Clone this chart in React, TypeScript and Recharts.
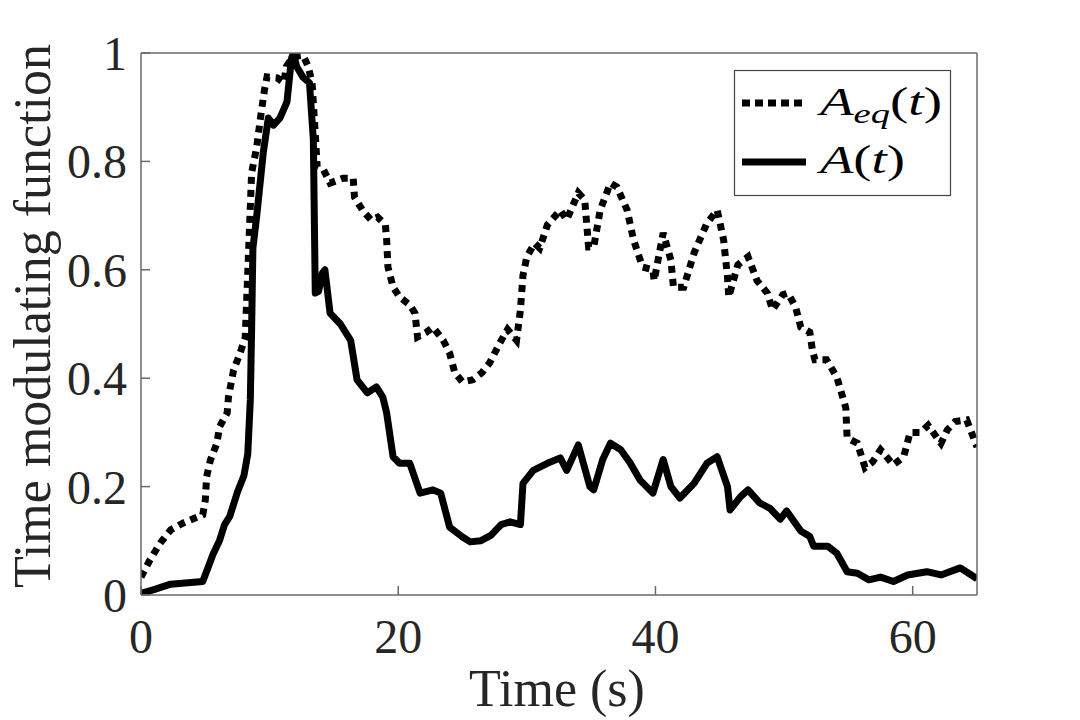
import React from 'react';
import { LineChart, Line, XAxis, YAxis } from 'recharts';

// A(t) — solid
const aTime = [0, 1, 2.3, 4.8, 5.2, 5.6, 6.1, 6.5, 6.9, 7.5, 8.0, 8.3, 8.5, 8.6, 8.7, 9.0, 9.5, 9.9, 10.3, 10.8, 11.35, 11.7, 11.85, 12.1, 12.6, 13.1, 13.4, 13.55, 13.8, 14.1, 14.3, 14.7, 15.5, 16.3, 16.8, 17.6, 18.3, 18.8, 19.1, 19.6, 20.1, 20.9, 21.7, 22.7, 23.3, 24.0, 25.0, 25.6, 26.4, 27.2, 28.0, 28.7, 29.5, 29.7, 30.5, 31.6, 32.6, 33.1, 34.0, 34.9, 35.2, 35.9, 36.5, 37.3, 38.0, 38.8, 39.8, 40.6, 41.2, 41.9, 43.0, 44.0, 44.8, 45.6, 45.8, 46.6, 47.2, 48.1, 48.9, 49.7, 50.2, 51.3, 52.0, 52.3, 53.4, 54.1, 54.9, 55.7, 56.6, 57.5, 58.5, 59.6, 61.1, 62.2, 63.7, 65];
const aValue = [0.003, 0.01, 0.02, 0.025, 0.05, 0.075, 0.10, 0.13, 0.145, 0.19, 0.22, 0.26, 0.36, 0.49, 0.64, 0.70, 0.815, 0.88, 0.867, 0.88, 0.91, 0.99, 1.0, 0.975, 0.955, 0.945, 0.84, 0.557, 0.56, 0.594, 0.6, 0.52, 0.50, 0.47, 0.397, 0.373, 0.384, 0.365, 0.336, 0.255, 0.243, 0.243, 0.188, 0.194, 0.188, 0.125, 0.107, 0.098, 0.10, 0.11, 0.13, 0.135, 0.13, 0.206, 0.23, 0.243, 0.253, 0.23, 0.277, 0.2, 0.194, 0.25, 0.28, 0.268, 0.245, 0.212, 0.188, 0.25, 0.2, 0.179, 0.206, 0.243, 0.255, 0.2, 0.157, 0.181, 0.194, 0.17, 0.16, 0.14, 0.155, 0.118, 0.108, 0.09, 0.09, 0.077, 0.043, 0.04, 0.028, 0.033, 0.025, 0.037, 0.043, 0.037, 0.05, 0.03];

// A_eq(t) — dotted
const eqTime = [0, 0.7, 1.5, 2.3, 3.3, 4.8, 5.0, 5.1, 5.4, 5.9, 6.1, 6.7, 6.8, 7.2, 7.7, 8.1, 8.3, 8.5, 8.6, 9.0, 9.3, 9.6, 9.8, 10.6, 11.1, 11.3, 11.8, 12.6, 13.0, 13.3, 13.5, 13.7, 14.2, 14.7, 15.7, 16.5, 16.6, 17.3, 17.9, 18.4, 19.0, 19.1, 19.2, 19.6, 20.1, 20.9, 21.3, 21.5, 22.2, 22.7, 23.5, 24.0, 24.4, 25.0, 25.8, 26.5, 27.1, 27.9, 28.5, 29.2, 29.5, 29.7, 30.0, 30.6, 31.0, 31.6, 32.6, 33.1, 34.0, 34.5, 34.8, 35.2, 35.7, 36.5, 37.0, 37.8, 38.3, 39.0, 39.8, 39.9, 40.6, 41.2, 41.4, 42.2, 43.0, 44.0, 44.8, 45.3, 45.6, 45.7, 46.4, 47.2, 47.9, 48.7, 49.1, 49.9, 50.3, 50.9, 51.3, 52.0, 52.2, 52.4, 53.3, 54.1, 54.4, 54.8, 54.9, 55.7, 56.3, 56.9, 57.5, 58.5, 59.3, 59.8, 60.6, 61.2, 62.2, 62.7, 63.3, 64.2, 65];
const eqValue = [0.033, 0.065, 0.096, 0.12, 0.133, 0.148, 0.175, 0.218, 0.249, 0.28, 0.31, 0.336, 0.365, 0.415, 0.446, 0.475, 0.594, 0.716, 0.779, 0.827, 0.882, 0.932, 0.956, 0.954, 0.945, 0.975, 0.993, 0.996, 0.975, 0.945, 0.871, 0.79, 0.784, 0.76, 0.769, 0.769, 0.734, 0.707, 0.692, 0.697, 0.683, 0.655, 0.605, 0.568, 0.55, 0.535, 0.52, 0.476, 0.485, 0.494, 0.47, 0.446, 0.41, 0.393, 0.397, 0.41, 0.428, 0.465, 0.49, 0.47, 0.526, 0.59, 0.624, 0.649, 0.64, 0.683, 0.71, 0.692, 0.742, 0.729, 0.642, 0.642, 0.71, 0.76, 0.753, 0.71, 0.655, 0.605, 0.6, 0.58, 0.668, 0.618, 0.568, 0.568, 0.631, 0.686, 0.71, 0.655, 0.587, 0.55, 0.609, 0.624, 0.58, 0.557, 0.526, 0.554, 0.557, 0.531, 0.494, 0.485, 0.452, 0.434, 0.434, 0.402, 0.378, 0.345, 0.29, 0.28, 0.235, 0.246, 0.268, 0.24, 0.255, 0.3, 0.3, 0.313, 0.28, 0.305, 0.32, 0.323, 0.273];

const xTicks = [0, 20, 40, 60];
const yTicks = [0, 0.2, 0.4, 0.6, 0.8, 1];
const xLabel = 'Time (s)';
const yLabel = 'Time modulating function';

const aData = aTime.map((t, i) => ({ t, v: aValue[i] }));
const eqData = eqTime.map((t, i) => ({ t, v: eqValue[i] }));

const FONT = '"Liberation Serif", "Times New Roman", serif';
const AXIS = '#6a6a6a';
const TXT = '#262626';

export default function App() {
  return (
    <div style={{ position: 'absolute', left: 0, top: 0, width: 1080, height: 720, background: '#fff' }}>
      <LineChart
        width={1080}
        height={720}
        margin={{ top: 43, right: 93, left: 81, bottom: 65 }}
        style={{ fontFamily: FONT }}
      >
        <XAxis
          xAxisId="b"
          type="number"
          dataKey="t"
          domain={[0, 65]}
          ticks={xTicks}
          allowDataOverflow
          height={60}
          stroke={AXIS}
          strokeWidth={1.5}
          tickSize={-9}
          tickMargin={33}
          tick={{ fill: TXT, fontSize: 48, fontFamily: FONT }}
        />
        <XAxis
          xAxisId="t"
          orientation="top"
          type="number"
          dataKey="t"
          domain={[0, 65]}
          ticks={xTicks}
          allowDataOverflow
          height={10}
          stroke={AXIS}
          strokeWidth={1.5}
          tickSize={-9}
          tick={false}
        />
        <YAxis
          yAxisId="l"
          type="number"
          domain={[0, 1]}
          ticks={yTicks}
          allowDataOverflow
          width={60}
          stroke={AXIS}
          strokeWidth={1.5}
          tickSize={-9}
          tickMargin={23}
          tickFormatter={(v: number) => String(v)}
          tick={{ fill: TXT, fontSize: 48, fontFamily: FONT }}
        />
        <YAxis
          yAxisId="r"
          orientation="right"
          type="number"
          domain={[0, 1]}
          ticks={yTicks}
          allowDataOverflow
          width={10}
          stroke={AXIS}
          strokeWidth={1.5}
          tickSize={-9}
          tick={false}
        />
        <Line
          xAxisId="b"
          yAxisId="l"
          data={eqData}
          dataKey="v"
          type="linear"
          stroke="#000"
          strokeWidth={7}
          strokeDasharray="7 6"
          dot={false}
          activeDot={false}
          isAnimationActive={false}
        />
        <Line
          xAxisId="b"
          yAxisId="l"
          data={aData}
          dataKey="v"
          type="linear"
          stroke="#000"
          strokeWidth={7}
          strokeLinejoin="round"
          dot={false}
          activeDot={false}
          isAnimationActive={false}
        />
      </LineChart>
      <svg
        width={1080}
        height={720}
        style={{ position: 'absolute', left: 0, top: 0, pointerEvents: 'none' }}
      >
        <text x={557} y={706} textAnchor="middle" fontFamily={FONT} fontSize={52} fill={TXT}>
          {xLabel}
        </text>
        <text
          transform="translate(50,316) rotate(-90)"
          textAnchor="middle"
          fontFamily={FONT}
          fontSize={52}
          fill={TXT}
        >
          {yLabel}
        </text>
        <rect x={734.5} y={70.5} width={216} height={125} fill="#fff" stroke="#444" strokeWidth={1.2} />
        <line x1={742} y1={103} x2={806} y2={103} stroke="#000" strokeWidth={7} strokeDasharray="8 5" />
        <line x1={742} y1={162} x2={806} y2={162} stroke="#000" strokeWidth={7} />
        <text x={820} y={115} fontFamily={FONT} fontSize={40} fill="#000" textLength={122} lengthAdjust="spacingAndGlyphs">
          <tspan fontStyle="italic">A</tspan>
          <tspan fontStyle="italic" fontSize={28} dy={8}>eq</tspan>
          <tspan dy={-8}>(</tspan>
          <tspan fontStyle="italic">t</tspan>
          <tspan>)</tspan>
        </text>
        <text x={820} y={173} fontFamily={FONT} fontSize={40} fill="#000" textLength={85} lengthAdjust="spacingAndGlyphs">
          <tspan fontStyle="italic">A</tspan>
          <tspan>(</tspan>
          <tspan fontStyle="italic">t</tspan>
          <tspan>)</tspan>
        </text>
      </svg>
    </div>
  );
}
